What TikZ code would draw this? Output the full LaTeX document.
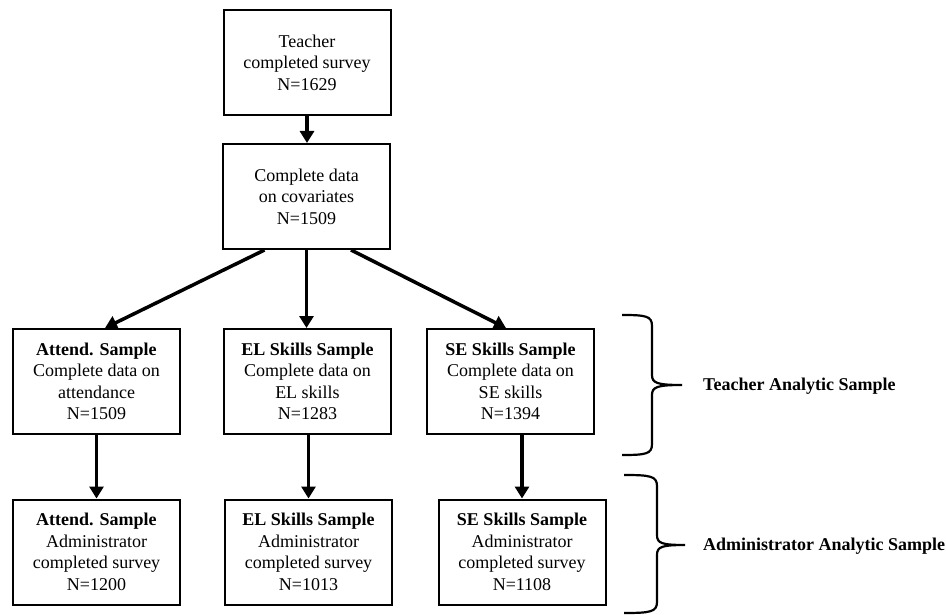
\documentclass[tikz,border=0pt]{standalone}
\usepackage{fontspec}
\setmainfont{Liberation Serif}
\usetikzlibrary{arrows.meta,calc}
\begin{document}
\begin{tikzpicture}[x=1pt,y=-1pt,
  box/.style={draw,line width=2pt,minimum width=167pt,minimum height=105pt,align=center,inner sep=0pt,font=\fontsize{18}{21.5}\selectfont},
  arr/.style={line width=3.5pt,-{Triangle[length=12pt,width=14pt]}},
  brc/.style={line width=2.2pt,line join=miter},
  lbl/.style={anchor=west,inner sep=0pt,font=\fontsize{18}{21.5}\selectfont\bfseries}]
\useasboundingbox (0,0) rectangle (946,615);
% boxes
\node[box] (b1) at (307,62.5) {Teacher\\completed survey\\N=1629};
\node[box] (b2) at (306.5,196.5) {Complete data\\on covariates\\N=1509};
\node[box] (a3) at (96.5,381.5) {\textbf{Attend. Sample}\\Complete data on\\attendance\\N=1509};
\node[box] (e3) at (307.5,381.5) {\textbf{EL Skills Sample}\\Complete data on\\EL skills\\N=1283};
\node[box] (s3) at (510.5,381.5) {\textbf{SE Skills Sample}\\Complete data on\\SE skills\\N=1394};
\node[box] (a4) at (96.5,552) {\textbf{Attend. Sample}\\Administrator\\completed survey\\N=1200};
\node[box] (e4) at (308.5,552) {\textbf{EL Skills Sample}\\Administrator\\completed survey\\N=1013};
\node[box] (s4) at (522,552) {\textbf{SE Skills Sample}\\Administrator\\completed survey\\N=1108};
% arrows
\draw[arr] (b1.south) -- (b1.south |- b2.north);
\draw[arr] ([xshift=-42pt]b2.south) -- ([xshift=8.5pt]a3.north);
\draw[arr] (b2.south) -- (b2.south |- e3.north);
\draw[arr] ([xshift=44.5pt]b2.south) -- ([xshift=-4.5pt]s3.north);
\draw[arr] (a3.south) -- (a4.north);
\draw[arr] (e3.south -| e4.north) -- (e4.north);
\draw[arr] (s4.north |- s3.south) -- (s4.north);
% braces
\draw[brc] (622,315) .. controls (646,315) and (652,316) .. (652,326) -- (652,375)
  .. controls (652,383) and (657,385) .. (682,385)
  .. controls (657,385) and (652,387) .. (652,395) -- (652,444)
  .. controls (652,454) and (646,455) .. (622,455);
\draw[brc] (624,475) .. controls (650,475) and (657,476) .. (657,486) -- (657,535)
  .. controls (657,543) and (661,545) .. (685,545)
  .. controls (661,545) and (657,547) .. (657,555) -- (657,602)
  .. controls (657,612) and (650,613) .. (624,613);
% labels
\node[lbl] (tl) at (703,386) {Teacher Analytic Sample};
\node[lbl] (al) at (703,546) {Administrator Analytic Sample};
\end{tikzpicture}
\end{document}
